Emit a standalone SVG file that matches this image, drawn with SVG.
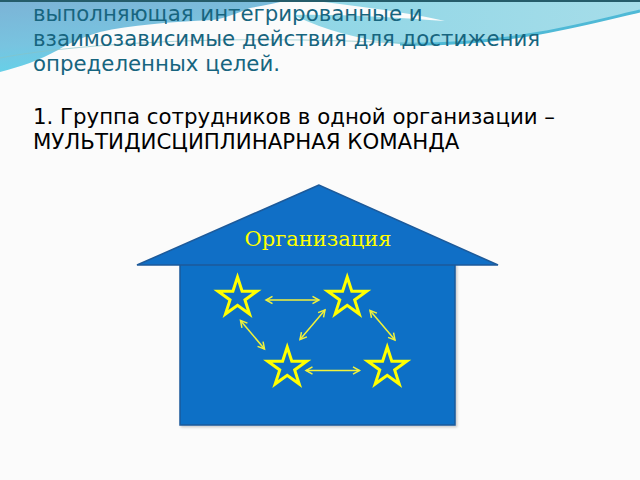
<svg xmlns="http://www.w3.org/2000/svg" width="640" height="480" viewBox="0 0 640 480">
  <defs>
    <linearGradient id="gBlue" x1="0" y1="0" x2="0.3" y2="1">
      <stop offset="0" stop-color="#7cb3d6"/>
      <stop offset="0.6" stop-color="#78c4e0"/>
      <stop offset="1" stop-color="#62d3ea"/>
    </linearGradient>
    <linearGradient id="gCyan" x1="0" y1="0" x2="1" y2="0">
      <stop offset="0" stop-color="#8fd6e6"/>
      <stop offset="1" stop-color="#a6dde9"/>
    </linearGradient>
    <path id="star" d="M0,-20.5 L4.6,-6.33 L19.5,-6.33 L7.45,2.42 L12.05,16.58 L0,7.83 L-12.05,16.58 L-7.45,2.42 L-19.5,-6.33 L-4.6,-6.33 Z"/>
    <marker id="ah" markerUnits="userSpaceOnUse" markerWidth="10" markerHeight="10" viewBox="-1 -5 9 10" refX="6.5" refY="0" orient="auto-start-reverse">
      <path d="M0,-3.6 L6.5,0 L0,3.6" fill="none" stroke="#f2f23a" stroke-width="1.5"/>
    </marker>
    <filter id="sh" x="-5%" y="-5%" width="115%" height="115%">
      <feDropShadow dx="1.5" dy="1.5" stdDeviation="1" flood-color="#000" flood-opacity="0.2"/>
    </filter>
  </defs>
  <style>
    .hdr { font-family: "DejaVu Sans", "Liberation Sans", sans-serif; font-size: 21.3px; fill: #17657f; }
    .body { font-family: "DejaVu Sans", "Liberation Sans", sans-serif; font-size: 21.3px; fill: #000; }
    .org { font-family: "DejaVu Serif", "Liberation Serif", serif; font-size: 21px; fill: #ffff00; }
    .house { fill: #106fc6; stroke: #1d5a9a; stroke-width: 1.5; }
    .st { fill: #106fc6; stroke: #ffff00; stroke-width: 3; }
    .conn { stroke: #f2f23a; stroke-width: 1.5; fill: none; marker-start: url(#ah); marker-end: url(#ah); }
  </style>

  <g id="background">
    <rect width="640" height="480" fill="#fbfbfb"/>
    <path d="M0,0 H290 C275,3 262,6 250,8 C235,14 225,18 213,20 C170,22 130,25 100,32 C80,38 68,44 58,50 C40,60 20,67 0,72 Z" fill="url(#gBlue)"/>
    <path d="M300,0 H640 V12 C590,22 540,35 480,42 C450,45 420,46 400,44 C360,40 325,30 295,16 Z" fill="url(#gCyan)"/>
    <path d="M288,0 H306 C360,6 410,13 445,21 C400,18 340,14 295,15 Z" fill="#fbfbfb"/>
    <path d="M400,44 C450,45 500,40 540,33 C580,26 610,18 640,11" fill="none" stroke="#4fb9d6" stroke-width="3"/>
    <path d="M0,58 C40,50 120,42 220,40 C300,39 360,41 420,44" fill="none" stroke="#86c3c8" stroke-width="1" opacity="0.7"/>
    <rect x="0" y="0" width="640" height="2" fill="#255c6a"/>
  </g>

  <g id="texts">
    <text class="hdr" x="33" y="21">выполняющая интегрированные и</text>
    <text class="hdr" x="33" y="46">взаимозависимые действия для достижения</text>
    <text class="hdr" x="33" y="71">определенных целей.</text>
    <text class="body" x="33" y="124">1. Группа сотрудников в одной организации –</text>
    <text class="body" x="33" y="149">МУЛЬТИДИСЦИПЛИНАРНАЯ КОМАНДА</text>
  </g>

  <g id="organization">
    <rect class="house" x="180" y="264" width="275" height="161" filter="url(#sh)"/>
    <polygon class="house" points="319,185 137,265 498,265"/>
    <text class="org" x="318" y="246" text-anchor="middle">Организация</text>
  </g>

  <g id="star1"><use href="#star" class="st" x="237.5" y="297.5"/></g>
  <g id="star2"><use href="#star" class="st" x="347.2" y="297.5"/></g>
  <g id="star3"><use href="#star" class="st" x="287.2" y="367.5"/></g>
  <g id="star4"><use href="#star" class="st" x="387.2" y="367.5"/></g>

  <g id="connectors">
    <line class="conn" x1="266" y1="300" x2="319" y2="300"/>
    <line class="conn" x1="240.5" y1="320.5" x2="264.5" y2="349"/>
    <line class="conn" x1="325" y1="310" x2="300" y2="339.5"/>
    <line class="conn" x1="370" y1="310.5" x2="395" y2="340"/>
    <line class="conn" x1="306" y1="370.5" x2="359.5" y2="370.5"/>
  </g>
</svg>
